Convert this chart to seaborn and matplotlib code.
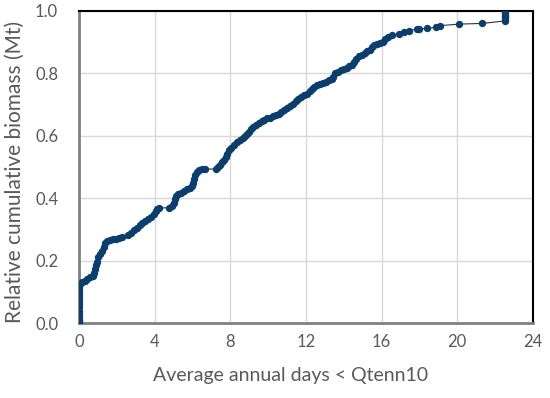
import matplotlib
matplotlib.use("Agg")
import matplotlib.pyplot as plt
import seaborn as sns
import pandas as pd

days = [
    0.0, 0.0, 0.0, 0.0, 0.0, 0.0, 0.0, 0.0, 0.0, 0.0, 0.0, 0.0, 0.0, 0.0,
    0.05, 0.15, 0.3, 0.45, 0.6, 0.72, 0.8, 0.85, 0.9, 0.95, 1.02, 1.1, 1.2,
    1.3, 1.4, 1.5, 1.65, 1.8, 1.95, 2.1, 2.25, 2.6, 2.75, 2.9, 3.05, 3.2,
    3.35, 3.5, 3.65, 3.8, 3.95, 4.05, 4.15, 4.25, 4.75, 4.9, 5.0, 5.08,
    5.15, 5.25, 5.4, 5.55, 5.7, 5.85, 6.0, 6.05, 6.1, 6.15, 6.22, 6.35,
    6.5, 6.65, 7.25, 7.35, 7.45, 7.55, 7.65, 7.75, 7.85, 7.95, 8.05, 8.2,
    8.35, 8.5, 8.65, 8.8, 8.9, 9.0, 9.1, 9.2, 9.35, 9.5, 9.65, 9.8, 9.95,
    10.1, 10.25, 10.4, 10.55, 10.7, 10.85, 11.0, 11.15, 11.3, 11.45, 11.6,
    11.75, 11.9, 12.05, 12.2, 12.3, 12.45, 12.6, 12.75, 12.9, 13.05, 13.2,
    13.35, 13.45, 13.55, 13.7, 13.85, 14.0, 14.15, 14.3, 14.45, 14.55,
    14.65, 14.8, 14.95, 15.1, 15.25, 15.4, 15.5, 15.6, 15.75, 15.9, 16.05,
    16.2, 16.35, 16.55, 16.9, 17.2, 17.45, 17.85, 18.0, 18.4, 18.9, 19.1,
    20.1, 21.3, 22.5, 22.5, 22.5, 22.5, 22.5, 22.5, 22.5,
]
biomass = [
    0.0, 0.005, 0.01, 0.02, 0.03, 0.04, 0.05, 0.06, 0.07, 0.08, 0.09, 0.10,
    0.11, 0.12, 0.125, 0.13, 0.135, 0.14, 0.146, 0.152, 0.16, 0.172, 0.185,
    0.197, 0.21, 0.222, 0.232, 0.243, 0.255, 0.262, 0.265, 0.268, 0.27,
    0.274, 0.277, 0.282, 0.287, 0.297, 0.305, 0.313, 0.32, 0.327, 0.333,
    0.34, 0.35, 0.358, 0.364, 0.368, 0.37, 0.376, 0.385, 0.397, 0.408,
    0.415, 0.418, 0.422, 0.428, 0.432, 0.438, 0.45, 0.462, 0.474, 0.483,
    0.49, 0.492, 0.494, 0.493, 0.5, 0.508, 0.515, 0.522, 0.532, 0.542,
    0.553, 0.562, 0.572, 0.58, 0.587, 0.593, 0.6, 0.606, 0.613, 0.622,
    0.628, 0.634, 0.64, 0.648, 0.652, 0.656, 0.658, 0.662, 0.666, 0.67,
    0.676, 0.683, 0.69, 0.697, 0.703, 0.71, 0.718, 0.725, 0.73, 0.735,
    0.742, 0.75, 0.757, 0.762, 0.766, 0.77, 0.774, 0.778, 0.782, 0.79, 0.8,
    0.805, 0.81, 0.815, 0.818, 0.823, 0.828, 0.838, 0.847, 0.855, 0.86,
    0.866, 0.872, 0.876, 0.884, 0.89, 0.893, 0.897, 0.902, 0.91, 0.917,
    0.922, 0.926, 0.934, 0.937, 0.942, 0.943, 0.944, 0.948, 0.953, 0.958,
    0.96, 0.968, 0.975, 0.98, 0.985, 0.99, 0.995, 1.0,
]
x_ticks = [0, 4, 8, 12, 16, 20, 24]
y_ticks = [0.0, 0.2, 0.4, 0.6, 0.8, 1.0]

df = pd.DataFrame({"days": days, "biomass": biomass})

sns.set_style("white")
plt.rcParams["font.family"] = ["Lato", "DejaVu Sans"]

fig = plt.figure(figsize=(5.5, 3.98), dpi=100)
ax = fig.add_axes([0.1436, 0.1884, 0.8254, 0.784])

navy = "#0b3e6c"
sns.lineplot(data=df, x="days", y="biomass", estimator=None, sort=False,
             color="#333333", linewidth=0.8, ax=ax, zorder=2)
sns.scatterplot(data=df, x="days", y="biomass", color=navy, s=28,
                edgecolor=navy, linewidth=0, ax=ax, zorder=3)

ax.set_xlim(0, 24)
ax.set_ylim(0, 1.0)
ax.set_xticks(x_ticks)
ax.set_yticks(y_ticks)
ax.set_yticklabels([f"{v:.1f}" for v in y_ticks])
ax.grid(True, color="#d9d9d9", linewidth=1.0)
ax.set_axisbelow(True)
ax.tick_params(axis="both", length=0, labelsize=12, colors="#595959")
ax.tick_params(axis="x", pad=8)
ax.tick_params(axis="y", pad=15)

ax.set_xlabel("Average annual days < Qtenn10", fontsize=14, color="#595959")
ax.set_ylabel("Relative cumulative biomass (Mt)", fontsize=15,
              color="#595959")
ax.xaxis.set_label_coords(0.467, -0.14)
ax.yaxis.set_label_coords(-0.119, 0.484)

for side in ["top", "right"]:
    ax.spines[side].set_color("black")
    ax.spines[side].set_linewidth(1.5)
for side in ["left", "bottom"]:
    ax.spines[side].set_color("#808080")
    ax.spines[side].set_linewidth(2.0)
for sp in ax.spines.values():
    sp.set_visible(True)

fig.savefig("out.png", dpi=100)
